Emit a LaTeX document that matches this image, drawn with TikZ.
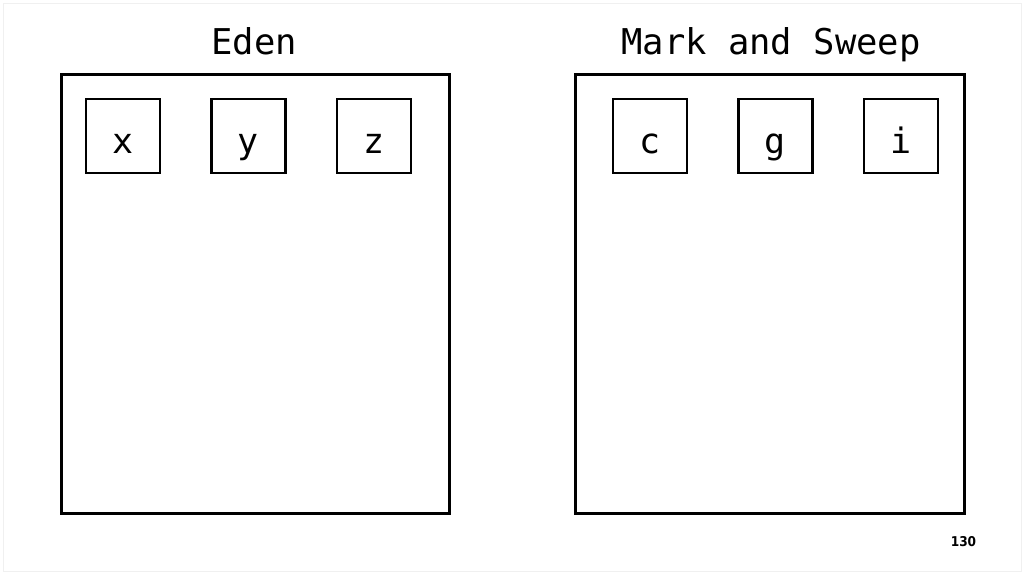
\documentclass[tikz,border=0pt]{standalone}
\usepackage{fontspec}
\setmainfont{DejaVu Sans}
\setmonofont{DejaVu Sans Mono}
\newfontfamily\pagefont{DejaVu Sans Condensed}
\begin{document}
\begin{tikzpicture}[x=1pt,y=-1pt,
  heap/.style={draw=black,line width=3pt},
  obj/.style={draw=black,line width=2.8pt,minimum width=74pt,minimum height=74pt,inner sep=0pt,text height=34pt,text depth=0pt,font=\fontsize{35}{38}\selectfont\ttfamily},
  title/.style={font=\fontsize{35.5}{38}\selectfont\ttfamily,inner sep=0pt,anchor=base}]
\useasboundingbox (0,0) rectangle (1024,574);
\draw[black!6,line width=0.8pt] (3,3) rectangle (1021,571);
% Eden
\node[title] (edent) at (254,54) {Eden};
\draw[heap] (61,74) rectangle (449,513);
\node[obj] (x) at (123,136) {x};
\node[obj] (y) at (248.5,136) {y};
\node[obj] (z) at (374,136) {z};
% Mark and Sweep
\node[title] (mst) at (771,54) {Mark and Sweep};
\draw[heap] (575,74) rectangle (964,513);
\node[obj] (c) at (650,136) {c};
\node[obj] (g) at (775.5,136) {g};
\node[obj] (i) at (901,136) {i};
% page number
\node[font=\pagefont\bfseries\fontsize{13.5}{16}\selectfont,inner sep=0pt] (pn) at (963.5,542) {130};
\end{tikzpicture}
\end{document}
